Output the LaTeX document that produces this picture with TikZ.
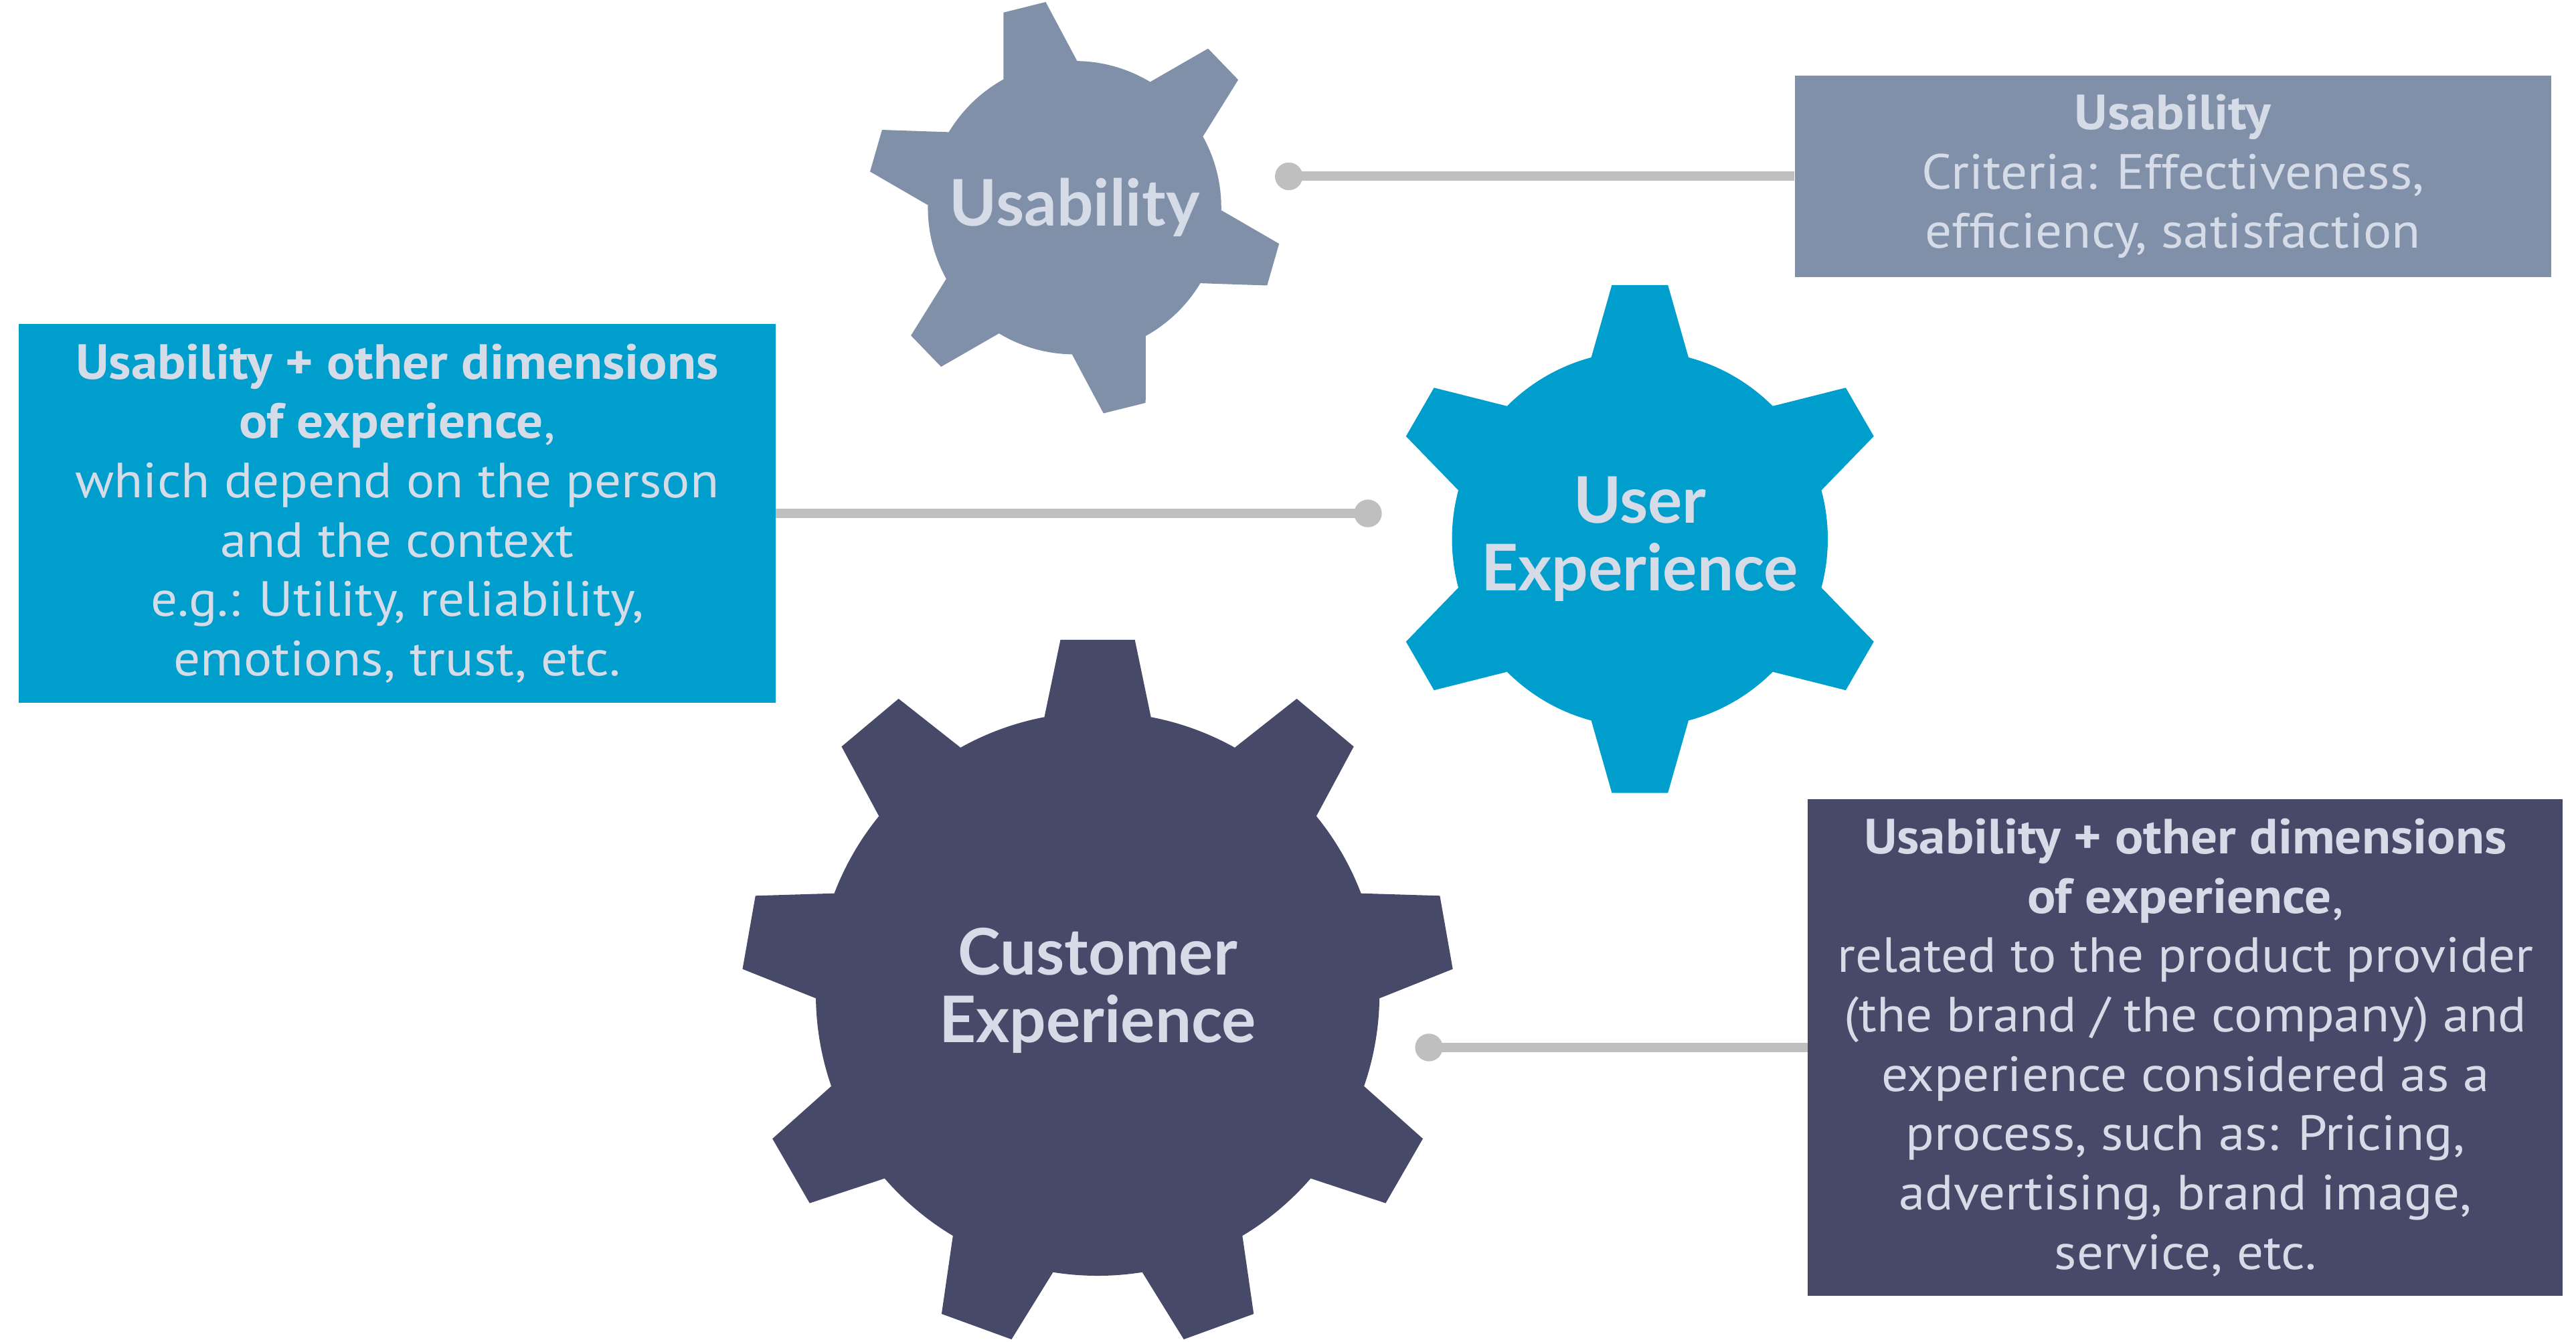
\documentclass[tikz,border=0pt]{standalone}
\usepackage{fontspec}
\setmainfont{PT Sans}[FakeStretch=1.07]
\newfontfamily\gearfont{Lato}
\usetikzlibrary{calc}
\definecolor{usagray}{HTML}{8090A9}
\definecolor{uxblue}{HTML}{009ECD}
\definecolor{cxnavy}{HTML}{464A68}
\definecolor{lighttext}{HTML}{D6DBE8}
\definecolor{linkgray}{HTML}{BFBFBF}

\begin{document}
\begin{tikzpicture}[x=1pt, y=1pt,
  boxtext/.style={text=lighttext, align=center, inner sep=0, font=\fontsize{30}{36}\selectfont},
  gearlabel/.style={text=lighttext, align=center, font=\gearfont\bfseries\fontsize{39}{41}\selectfont},
  link/.style={linkgray, line width=5.7}]
\useasboundingbox (0,0) rectangle (1563,814);

\begin{scope}[shift={(652,688)}]
\fill[usagray] (0,0) circle (89);
\foreach \a in {104,164,...,404}
 \fill[usagray] (\a-15:89) -- (\a-6:126) -- (\a+6:126) -- (\a+15:89) -- cycle;
\end{scope}
\node[gearlabel] (usagear) at (652,688) {Usability};

\begin{scope}[shift={(995,487)}]
\fill[uxblue] (0,0) circle (114);
\foreach \a in {30,90,...,330}
 \fill[uxblue] (\a-15:114) -- (\a-6.3:155) -- (\a+6.3:155) -- (\a+15:114) -- cycle;
\end{scope}
\node[gearlabel] (uxgear) at (995,487) {User\\Experience};

\begin{scope}[shift={(666,211)}]
\fill[cxnavy] (0,0) circle (171);
\foreach \a in {10,50,...,330}
 \fill[cxnavy] (\a-10.9:171) -- (\a-6:216) -- (\a+6:216) -- (\a+10.9:171) -- cycle;
\end{scope}
\node[gearlabel] (cxgear) at (666,213) {Customer\\Experience};

\node[boxtext, fill=usagray, minimum width=459, minimum height=122] (usabox) at (1318.5,707)
 {\textbf{Usability}\\Criteria: Effectiveness,\\efficiency, satisfaction};
\node[boxtext, fill=uxblue, minimum width=459, minimum height=230] (uxbox) at (241,502.5)
 {\textbf{Usability + other dimensions}\\\textbf{of experience},\\which depend on the person\\and the context\\e.g.: Utility, reliability,\\emotions, trust, etc.};
\node[boxtext, fill=cxnavy, minimum width=458, minimum height=301] (cxbox) at (1326,178.5)
 {\textbf{Usability + other dimensions}\\\textbf{of experience},\\related to the product provider\\(the brand / the company) and\\experience considered as a\\process, such as: Pricing,\\advertising, brand image,\\service, etc.};

\coordinate (usadot) at (782,707);
\coordinate (uxdot) at (830,502.5);
\coordinate (cxdot) at (867,178.5);
\draw[link] (usadot) -- (usabox.west);
\draw[link] (uxdot) -- (uxbox.east);
\draw[link] (cxdot) -- (cxbox.west);
\foreach \d in {usadot,uxdot,cxdot}
 \fill[linkgray] (\d) circle (8.4);
\end{tikzpicture}
\end{document}
